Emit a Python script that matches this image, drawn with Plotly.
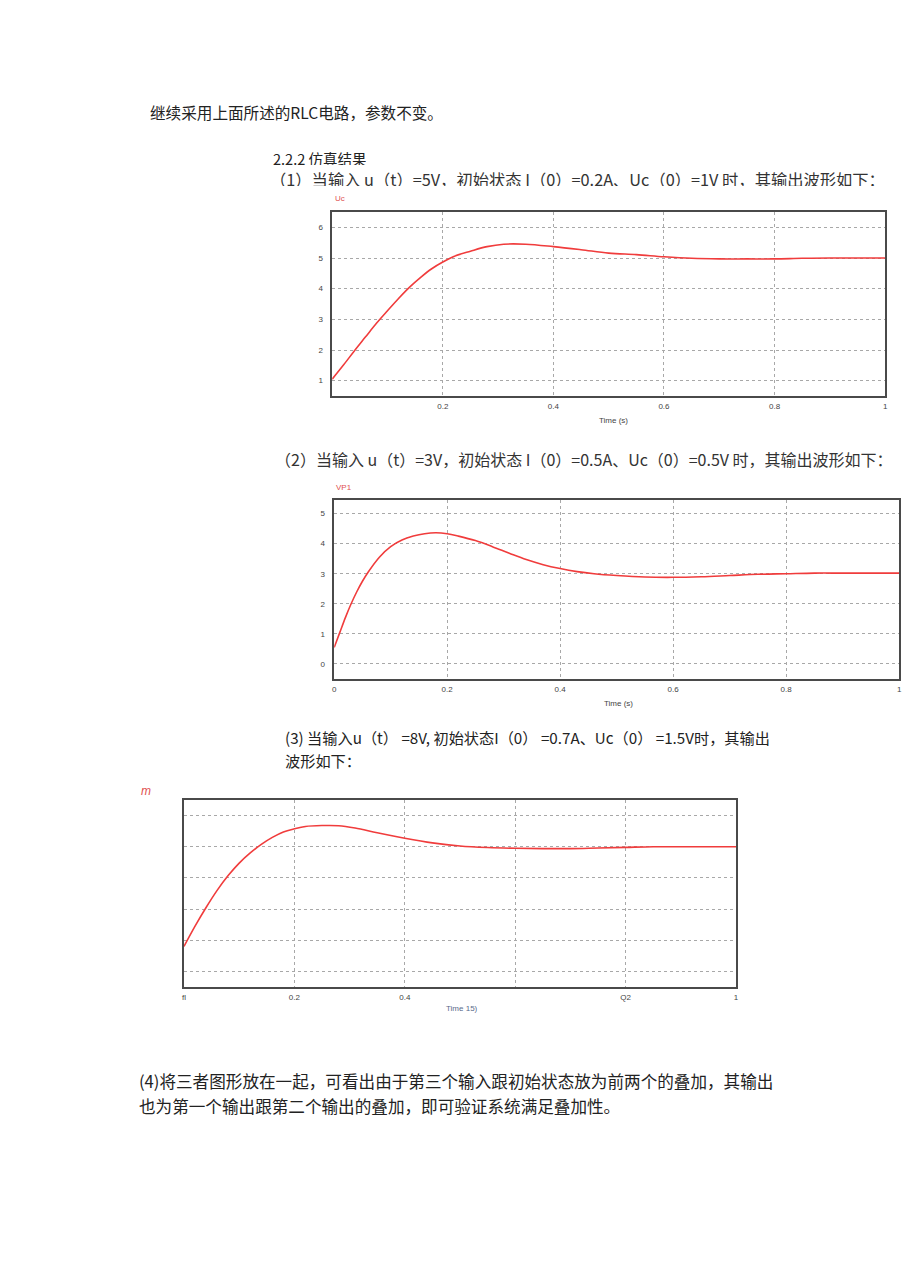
import plotly.graph_objects as go

W, H = 920, 1276

# ---- data ----
t1 = [0, 0.02, 0.04, 0.06, 0.08, 0.10, 0.12, 0.14, 0.16, 0.18, 0.20, 0.22, 0.25, 0.28, 0.31,
      0.35, 0.40, 0.45, 0.50, 0.55, 0.60, 0.65, 0.70, 0.75, 0.80, 0.85, 0.90, 1.0]
uc1 = [1.05, 1.5, 1.97, 2.42, 2.87, 3.28, 3.68, 4.05, 4.37, 4.65, 4.87, 5.05, 5.22, 5.37, 5.45,
       5.45, 5.37, 5.27, 5.16, 5.11, 5.04, 4.99, 4.97, 4.97, 4.97, 4.99, 5.0, 5.0]

t2 = [0, 0.01, 0.02, 0.03, 0.04, 0.05, 0.06, 0.08, 0.10, 0.12, 0.14, 0.16, 0.18, 0.20, 0.22,
      0.25, 0.28, 0.31, 0.34, 0.37, 0.40, 0.43, 0.46, 0.50, 0.55, 0.60, 0.65, 0.70, 0.75,
      0.80, 0.85, 0.90, 1.0]
vp2 = [0.55, 1.05, 1.55, 2.0, 2.4, 2.75, 3.05, 3.55, 3.9, 4.12, 4.25, 4.33, 4.36, 4.33, 4.25,
       4.1, 3.9, 3.68, 3.47, 3.3, 3.17, 3.07, 3.0, 2.94, 2.89, 2.88, 2.9, 2.94, 2.98,
       3.0, 3.02, 3.02, 3.02]

t3 = [0, 0.02, 0.04, 0.06, 0.08, 0.10, 0.12, 0.14, 0.16, 0.18, 0.20, 0.22, 0.25, 0.28, 0.31,
      0.35, 0.40, 0.45, 0.50, 0.55, 0.60, 0.65, 0.70, 0.75, 0.80, 0.85, 0.90, 1.0]
m3 = [1.6, 2.9, 4.1, 5.2, 6.15, 6.95, 7.6, 8.15, 8.6, 8.95, 9.15, 9.3, 9.36, 9.35, 9.2,
      8.9, 8.55, 8.25, 8.05, 7.95, 7.9, 7.88, 7.88, 7.92, 7.96, 8.0, 8.0, 8.0]

x1_ticks = [0.2, 0.4, 0.6, 0.8, 1]
x1_labels = ["0.2", "0.4", "0.6", "0.8", "1"]
y1_ticks = [1, 2, 3, 4, 5, 6]
x2_ticks = [0, 0.2, 0.4, 0.6, 0.8, 1]
x2_labels = ["0", "0.2", "0.4", "0.6", "0.8", "1"]
y2_ticks = [0, 1, 2, 3, 4, 5]
x3_ticks = [0, 0.2, 0.4, 0.6, 0.8, 1]
x3_labels = ["fl", "0.2", "0.4", "", "Q2", "1"]
y3_ticks = [0, 2, 4, 6, 8, 10]


def px(x):
    return x / W


def py(y):
    return 1 - y / H


LINE = "#f03c3c"
GRID = "#a8a8a8"
FRAME = "#4a4a4a"
TICKF = dict(family="Arial, Liberation Sans", size=8, color="#444444")

fig = go.Figure()
fig.add_trace(go.Scatter(x=t1, y=uc1, mode="lines", line=dict(color=LINE, width=1.6, shape="spline"),
                         xaxis="x", yaxis="y", showlegend=False))
fig.add_trace(go.Scatter(x=t2, y=vp2, mode="lines", line=dict(color=LINE, width=1.6, shape="spline"),
                         xaxis="x2", yaxis="y2", showlegend=False))
fig.add_trace(go.Scatter(x=t3, y=m3, mode="lines", line=dict(color=LINE, width=1.6, shape="spline"),
                         xaxis="x3", yaxis="y3", showlegend=False))


def xax(dom, anchor, tv, tt):
    return dict(domain=dom, anchor=anchor, range=[0, 1], tickvals=tv, ticktext=tt,
                showgrid=True, gridcolor=GRID, griddash="dot", gridwidth=1,
                showline=True, mirror=True, linecolor=FRAME, linewidth=1.5,
                zeroline=False, ticks="", tickfont=TICKF, ticklabelstandoff=2)


def yax(dom, anchor, rng, tv, show=True):
    return dict(domain=dom, anchor=anchor, range=rng, tickvals=tv, showticklabels=show,
                showgrid=True, gridcolor=GRID, griddash="dot", gridwidth=1,
                showline=True, mirror=True, linecolor=FRAME, linewidth=1.5,
                zeroline=False, ticks="", tickfont=TICKF, ticklabelstandoff=6)


layout = dict(
    width=W, height=H, margin=dict(l=0, r=0, t=0, b=0),
    paper_bgcolor="white", plot_bgcolor="white", showlegend=False,
    xaxis=xax([px(332), px(888)], "y", x1_ticks, x1_labels),
    yaxis=yax([py(396), py(212)], "x", [0.5, 6.5], y1_ticks),
    xaxis2=xax([px(334), px(902)], "y2", x2_ticks, x2_labels),
    yaxis2=yax([py(679), py(500)], "x2", [-0.5, 5.45], y2_ticks),
    xaxis3=xax([px(183), px(738)], "y3", x3_ticks, x3_labels),
    yaxis3=yax([py(987), py(800)], "x3", [-1.0, 11.0], y3_ticks, show=False),
)
fig.update_layout(**layout)

CJK = "Noto Sans CJK SC"
TXT = "#222222"
AR = "Arial, Liberation Sans"
annots = [
    (147, 112, "继续采用上面所述的RLC电路，参数不变。", 15.6, TXT, CJK, None),
    (271, 158, "2.2.2 仿真结果", 14.5, TXT, CJK, 14),
    (268, 178, "（1）当输入 u（t）=5V，初始状态 I（0）=0.2A、Uc（0）=1V 时，其输出波形如下：", 16.3, "#333333", CJK, 15),
    (272, 459, "（2）当输入 u（t）=3V，初始状态 I（0）=0.5A、Uc（0）=0.5V 时，其输出波形如下：", 16, "#333333", CJK, None),
    (283, 737, "(3) 当输入u（t） =8V, 初始状态I（0） =0.7A、Uc（0） =1.5V时，其输出", 15.2, TXT, CJK, None),
    (283, 760, "波形如下：", 15.2, TXT, CJK, None),
    (136, 1081, "(4)将三者图形放在一起，可看出由于第三个输入跟初始状态放为前两个的叠加，其输出", 16.6, TXT, CJK, None),
    (136, 1106, "也为第一个输出跟第二个输出的叠加，即可验证系统满足叠加性。", 16.6, TXT, CJK, None),
    (333, 199, "Uc", 8, "#e05050", AR, None),
    (334, 487, "VP1", 8, "#e05050", AR, None),
    (598, 420, "Time (s)", 8, "#444444", AR, None),
    (603, 703, "Time (s)", 8, "#444444", AR, None),
    (444, 1008, "Time 15)", 8, "#5a6a8a", AR, None),
    (138, 791, "<i>m</i>", 12, "#e05050", AR, None),
]
for x, y, t, s, c, f, h in annots:
    kw = dict(x=px(x), y=py(y), xref="paper", yref="paper", text=t, showarrow=False,
              xanchor="left", yanchor="middle", font=dict(family=f, size=s, color=c))
    if h:
        kw["height"] = h
        kw["borderpad"] = 0
    fig.add_annotation(**kw)

fig.write_html("out.html")
